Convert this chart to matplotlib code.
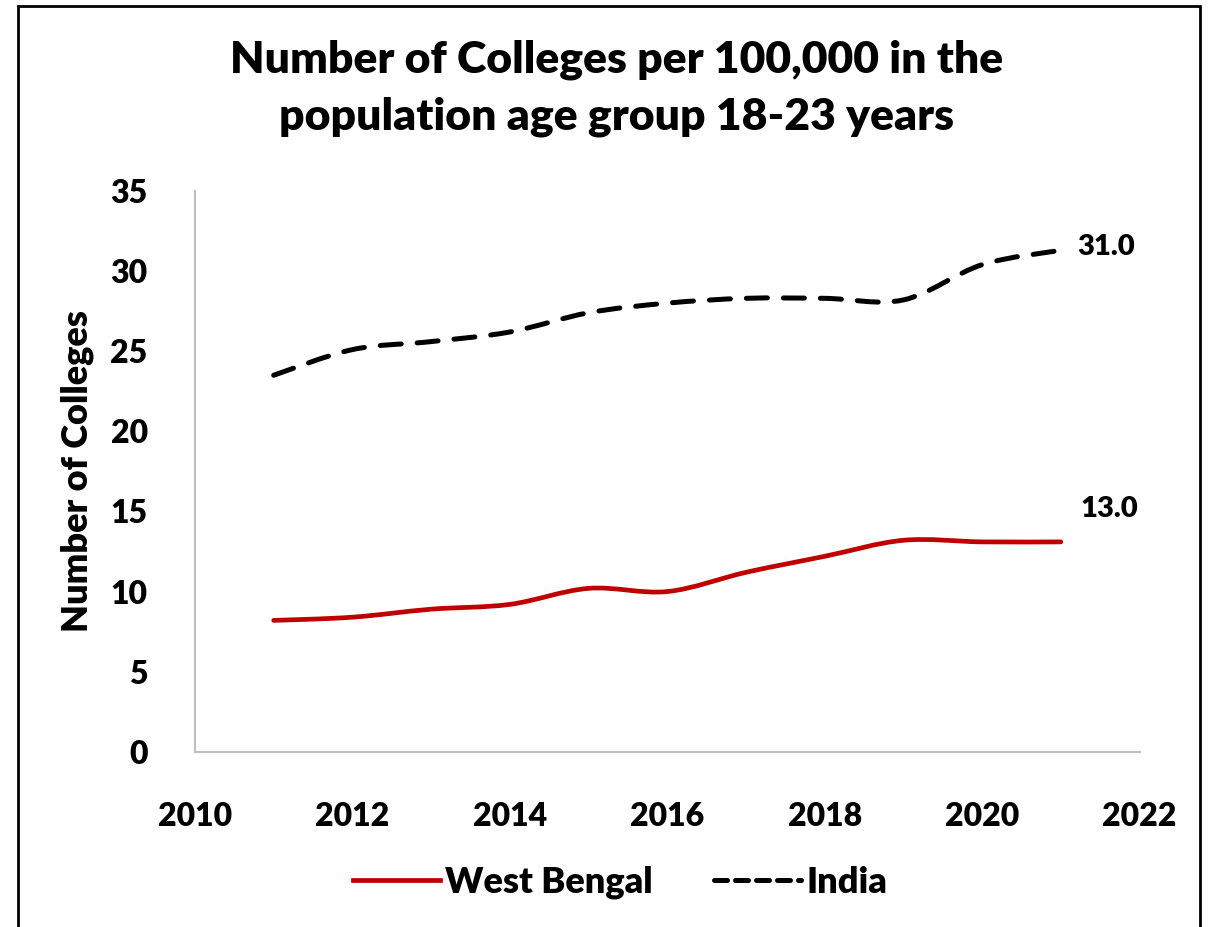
import numpy as np
import matplotlib.pyplot as plt
from matplotlib.path import Path
from matplotlib.patches import PathPatch, Rectangle
from matplotlib.lines import Line2D

plt.rcParams['font.family'] = ['Lato', 'DejaVu Sans']
plt.rcParams['font.weight'] = 'bold'

years = [2011, 2012, 2013, 2014, 2015, 2016, 2017, 2018, 2019, 2020, 2021]
west_bengal = [8.2, 8.4, 8.9, 9.2, 10.2, 10.0, 11.2, 12.2, 13.2, 13.1, 13.1]
india = [23.5, 25.1, 25.6, 26.2, 27.4, 28.0, 28.3, 28.3, 28.2, 30.4, 31.3]
series_names = ['West Bengal', 'India']
end_labels = ['13.0', '31.0']


def smooth_path(x, y):
    # Catmull-Rom style bezier through the points (like Excel's smoothed line)
    pts = np.column_stack([x, y]).astype(float)
    verts = [pts[0]]
    codes = [Path.MOVETO]
    n = len(pts)
    for i in range(n - 1):
        p0 = pts[max(i - 1, 0)]
        p1 = pts[i]
        p2 = pts[i + 1]
        p3 = pts[min(i + 2, n - 1)]
        c1 = p1 + (p2 - p0) / 6.0
        c2 = p2 - (p3 - p1) / 6.0
        verts += [c1, c2, p2]
        codes += [Path.CURVE4] * 3
    return Path(verts, codes)


fig = plt.figure(figsize=(12.11, 9.27), dpi=100)
ax = fig.add_axes([0.161, 0.189, 0.780, 0.605])

wb_patch = PathPatch(smooth_path(years, west_bengal), fill=False,
                     edgecolor='#c00000', linewidth=3.4, capstyle='round')
in_patch = PathPatch(smooth_path(years, india), fill=False,
                     edgecolor='black', linewidth=3.6, linestyle=(0, (4.2, 3.2)),
                     capstyle='round')
ax.add_patch(wb_patch)
ax.add_patch(in_patch)

ax.set_xlim(2010, 2022)
ax.set_ylim(0, 35)
ax.set_xticks(range(2010, 2023, 2))
ax.set_yticks(range(0, 36, 5))
ax.tick_params(length=0, labelsize=23)
ax.tick_params(axis='y', pad=34)
ax.tick_params(axis='x', pad=36)
for lab in ax.get_xticklabels() + ax.get_yticklabels():
    lab.set_fontweight('heavy')

for side in ['top', 'right']:
    ax.spines[side].set_visible(False)
for side in ['left', 'bottom']:
    ax.spines[side].set_color('#bfbfbf')
    ax.spines[side].set_linewidth(1.5)

ax.set_ylabel('Number of Colleges', fontsize=26, fontweight='heavy', labelpad=12)

ax.annotate(end_labels[0], (years[-1], west_bengal[-1]), xytext=(14, 14),
            textcoords='offset points', fontsize=21, fontweight='heavy',
            ha='left', va='bottom')
ax.annotate(end_labels[1], (years[-1], india[-1]), xytext=(12, 2),
            textcoords='offset points', fontsize=21, fontweight='heavy',
            ha='left', va='center')

fig.text(0.509, 0.905, 'Number of Colleges per 100,000 in the\npopulation age group 18-23 years',
         ha='center', va='center', fontsize=32, fontweight='heavy', linespacing=1.5)

handles = [Line2D([], [], color='#c00000', linewidth=3.4),
           Line2D([], [], color='black', linewidth=3.6, linestyle=(0, (2.6, 1.6)),
                  dash_capstyle='round')]
fig.legend(handles, series_names, loc='center', bbox_to_anchor=(0.512, 0.048),
           ncol=2, frameon=False, handlelength=2.4,
           handletextpad=0.15, columnspacing=1.7,
           prop={'weight': 'heavy', 'size': 26})

# outer frame of the original picture, cut off at the bottom and right
fig.patches.append(Rectangle((18 / 1211, -0.1), 1182 / 1211, 1.1 - 6 / 927,
                             transform=fig.transFigure, fill=False,
                             edgecolor='black', linewidth=2))

fig.savefig('out.png', dpi=100)
